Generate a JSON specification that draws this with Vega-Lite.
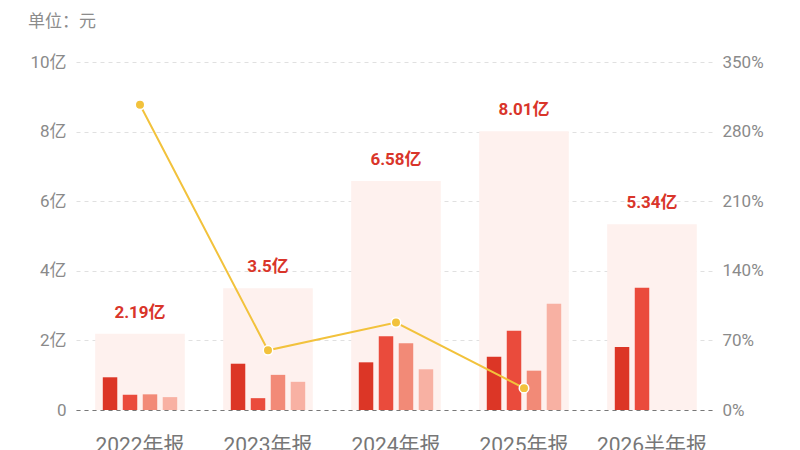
{
  "$schema": "https://vega.github.io/schema/vega-lite/v6.json",
  "width": 640,
  "height": 348,
  "autosize": {"type": "none"},
  "padding": {"left": 76, "top": 62, "right": 84, "bottom": 40},
  "background": "white",
  "title": {
    "text": "单位：元",
    "anchor": "start",
    "frame": "group",
    "dx": -48,
    "offset": 22,
    "fontSize": 17,
    "fontWeight": "normal",
    "color": "#8c8c8c",
    "font": "Noto Sans CJK SC"
  },
  "config": {
    "view": {"stroke": null},
    "font": "Roboto, Noto Sans CJK SC",
    "axis": {
      "labelFont": "Roboto, Noto Sans CJK SC",
      "labelColor": "#8a8a8a",
      "ticks": false,
      "domain": false,
      "title": null
    }
  },
  "datasets": {
    "years": [
      {"year": "2022年报", "total": 2.19, "label": "2.19亿", "growth": 307},
      {"year": "2023年报", "total": 3.5, "label": "3.5亿", "growth": 60},
      {"year": "2024年报", "total": 6.58, "label": "6.58亿", "growth": 88},
      {"year": "2025年报", "total": 8.01, "label": "8.01亿", "growth": 22},
      {"year": "2026半年报", "total": 5.34, "label": "5.34亿", "growth": null}
    ],
    "quarters": [
      {"year": "2022年报", "quarter": "Q1", "value": 0.94},
      {"year": "2022年报", "quarter": "Q2", "value": 0.44},
      {"year": "2022年报", "quarter": "Q3", "value": 0.45},
      {"year": "2022年报", "quarter": "Q4", "value": 0.37},
      {"year": "2023年报", "quarter": "Q1", "value": 1.33},
      {"year": "2023年报", "quarter": "Q2", "value": 0.34},
      {"year": "2023年报", "quarter": "Q3", "value": 1.01},
      {"year": "2023年报", "quarter": "Q4", "value": 0.81},
      {"year": "2024年报", "quarter": "Q1", "value": 1.37},
      {"year": "2024年报", "quarter": "Q2", "value": 2.12},
      {"year": "2024年报", "quarter": "Q3", "value": 1.92},
      {"year": "2024年报", "quarter": "Q4", "value": 1.17},
      {"year": "2025年报", "quarter": "Q1", "value": 1.53},
      {"year": "2025年报", "quarter": "Q2", "value": 2.28},
      {"year": "2025年报", "quarter": "Q3", "value": 1.13},
      {"year": "2025年报", "quarter": "Q4", "value": 3.05},
      {"year": "2026半年报", "quarter": "Q1", "value": 1.81},
      {"year": "2026半年报", "quarter": "Q2", "value": 3.51}
    ]
  },
  "encoding": {
    "x": {
      "field": "year",
      "type": "nominal",
      "sort": null,
      "scale": {"paddingInner": 0.3, "paddingOuter": 0.15},
      "axis": {
        "labelAngle": 0,
        "labelFontSize": 21,
        "labelColor": "#777777",
        "labelPadding": 24,
        "domain": true,
        "domainDash": [4, 4],
        "domainColor": "#777777",
        "domainWidth": 1
      }
    }
  },
  "layer": [
    {
      "layer": [
        {
          "data": {"name": "years"},
          "mark": {"type": "bar", "color": "#fef1ee"},
          "encoding": {
            "y": {
              "field": "total",
              "type": "quantitative",
              "scale": {"domain": [0, 10], "nice": false},
              "axis": {
                "values": [0, 2, 4, 6, 8, 10],
                "labelExpr": "datum.value == 0 ? '0' : datum.value + '亿'",
                "labelFontSize": 17,
                "labelPadding": 10,
                "grid": true,
                "gridDash": [4, 4],
                "gridColor": "#e0e0e0",
                "orient": "left"
              }
            }
          }
        },
        {
          "data": {"name": "quarters"},
          "mark": {"type": "bar"},
          "encoding": {
            "xOffset": {
              "field": "quarter",
              "type": "nominal",
              "scale": {"domain": ["Q1", "Q2", "Q3", "Q4"], "paddingInner": 0.275, "paddingOuter": 0.38}
            },
            "y": {"field": "value", "type": "quantitative"},
            "color": {
              "field": "quarter",
              "type": "nominal",
              "scale": {"domain": ["Q1", "Q2", "Q3", "Q4"], "range": ["#dc3626", "#ea4b3c", "#f28a77", "#f8b1a3"]},
              "legend": null
            }
          }
        },
        {
          "data": {"name": "years"},
          "mark": {"type": "text", "baseline": "bottom", "dy": -12, "fontSize": 17, "fontWeight": "bold", "color": "#d9352a", "font": "Roboto, Noto Sans CJK SC"},
          "encoding": {
            "y": {"field": "total", "type": "quantitative"},
            "text": {"field": "label"}
          }
        }
      ]
    },
    {
      "data": {"name": "years"},
      "transform": [{"filter": "isValid(datum.growth)"}],
      "layer": [
        {
          "mark": {"type": "line", "color": "#f2c23c", "strokeWidth": 2},
          "encoding": {
            "y": {
              "field": "growth",
              "type": "quantitative",
              "scale": {"domain": [0, 350], "nice": false},
              "axis": {
                "orient": "right",
                "values": [0, 70, 140, 210, 280, 350],
                "labelExpr": "datum.value + '%'",
                "labelFontSize": 17,
                "labelPadding": 6,
                "grid": false
              }
            }
          }
        },
        {
          "mark": {"type": "point", "filled": true, "color": "#f2c23c", "size": 90, "stroke": "white", "strokeWidth": 1.5, "opacity": 1},
          "encoding": {
            "y": {"field": "growth", "type": "quantitative"}
          }
        }
      ]
    }
  ],
  "resolve": {"scale": {"y": "independent"}}
}
